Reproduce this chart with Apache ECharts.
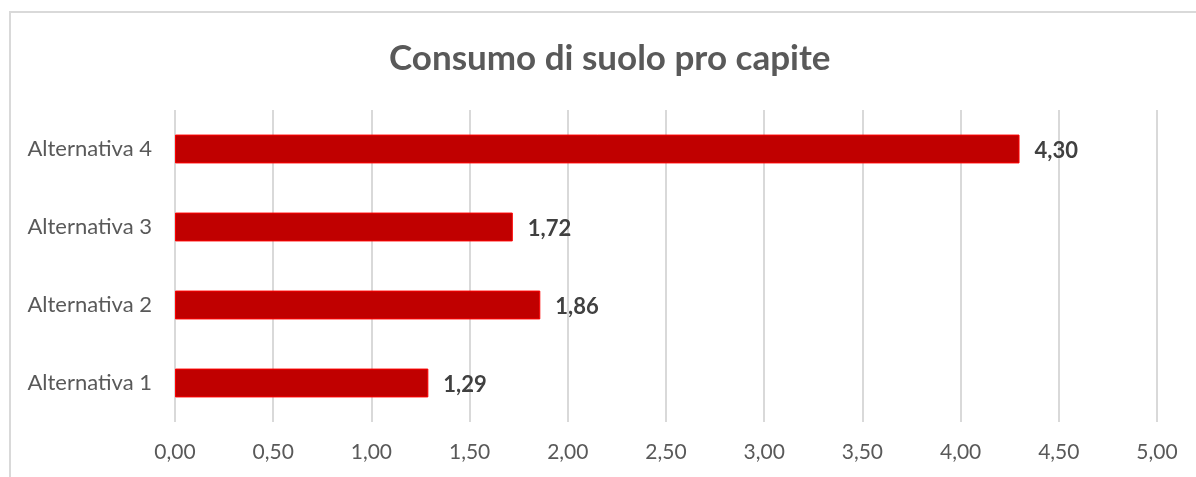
<!DOCTYPE html>
<html>
<head>
<meta charset="utf-8">
<script src="https://cdn.jsdelivr.net/npm/echarts@6/dist/echarts.min.js"></script>
<style>
  html, body { margin: 0; padding: 0; background: #ffffff; }
  #chart { width: 1196px; height: 477px; }
</style>
</head>
<body>
<div id="chart"></div>
<script>
// Land consumption per capita for each planning alternative
const categories = ['Alternativa 1', 'Alternativa 2', 'Alternativa 3', 'Alternativa 4'];
const values = [1.29, 1.86, 1.72, 4.30];
const axisMin = 0;
const axisMax = 5;
const axisStep = 0.5;

const fmt = v => v.toFixed(2).replace('.', ',');
const FONT = 'Lato';

const chart = echarts.init(document.getElementById('chart'), null, { renderer: 'canvas' });
chart.setOption({
  backgroundColor: '#ffffff',
  animation: false,
  textStyle: { fontFamily: FONT },
  title: {
    text: 'Consumo di suolo pro capite',
    left: 384,
    top: 36,
    textStyle: { fontFamily: FONT, fontSize: 35, fontWeight: 'bold', color: '#595959' }
  },
  graphic: [{
    type: 'polyline',
    shape: { points: [[10, 477], [10, 12], [1196, 12]] },
    style: { stroke: '#d9d9d9', lineWidth: 2, fill: null },
    silent: true
  }],
  grid: { left: 175, right: 39, top: 110, bottom: 55, containLabel: false },
  xAxis: {
    type: 'value',
    min: axisMin,
    max: axisMax,
    interval: axisStep,
    axisLine: { show: false },
    axisTick: { show: false },
    splitLine: { show: true, lineStyle: { color: '#d9d9d9', width: 2 } },
    axisLabel: {
      formatter: fmt,
      color: '#595959',
      fontFamily: FONT,
      fontSize: 21,
      margin: 20
    }
  },
  yAxis: {
    type: 'category',
    data: categories,
    axisLine: { show: false },
    axisTick: { show: false },
    splitLine: { show: false },
    axisLabel: {
      color: '#595959',
      fontFamily: FONT,
      fontSize: 22,
      margin: 23
    }
  },
  series: [{
    type: 'bar',
    data: values,
    barCategoryGap: '63%',
    itemStyle: { color: '#c00000', borderColor: '#ff0000', borderWidth: 1 },
    label: {
      show: true,
      position: 'right',
      distance: 15,
      offset: [0, 2],
      formatter: p => fmt(p.value),
      color: '#404040',
      fontFamily: FONT,
      fontSize: 22,
      fontWeight: 'bold'
    }
  }]
});
</script>
</body>
</html>
